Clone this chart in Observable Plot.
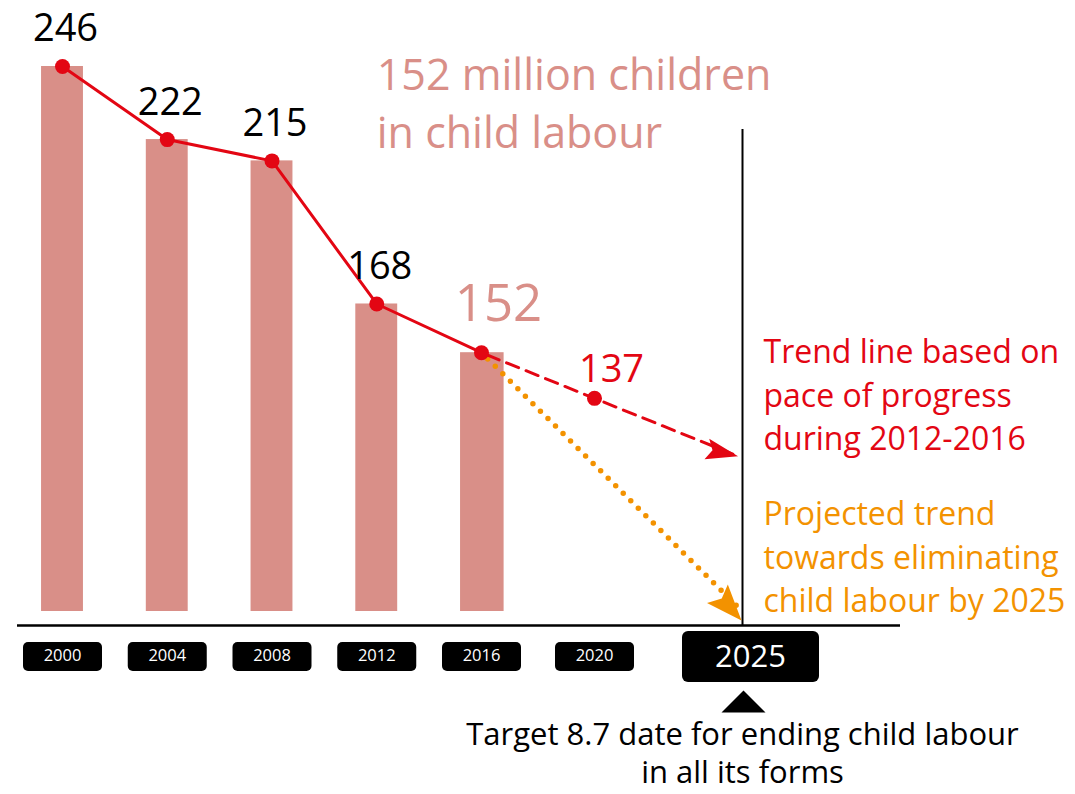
<!DOCTYPE html>
<html><head><meta charset="utf-8">
<script src="https://cdn.jsdelivr.net/npm/d3@7"></script>
<script src="https://cdn.jsdelivr.net/npm/@observablehq/plot@0.6"></script>
<style>
body{margin:0;background:#fff;}
#chart svg{display:block;}
</style></head><body><div id="chart"></div>
<script>
// ---- data ----
const years = [2000, 2004, 2008, 2012, 2016];
const children = [246, 222, 215, 168, 152];
const trendYears = [2016, 2020, 2024.85];
const trendValues = [152, 137, 118];
const targetYears = [2016, 2025];
const targetValues = [152, 0];
const tickYears = [2000, 2004, 2008, 2012, 2016, 2020];
const targetYear = 2025;
const titleText = "152 million children\nin child labour";
const trendNote = "Trend line based on\npace of progress\nduring 2012-2016";
const targetNote = "Projected trend\ntowards eliminating\nchild labour by 2025";
const footNote = "Target 8.7 date for ending child labour\nin all its forms";

// ---- tables ----
const obs = years.map((year, i) => ({year, value: children[i]}));
const trend = trendYears.map((year, i) => ({year, value: trendValues[i]}));
const target = targetYears.map((year, i) => ({year, value: targetValues[i]}));

const RED = "#e30613", ORANGE = "#f39200", SALMON = "#d98f88";
const FONT = "Open Sans, Noto Sans, sans-serif";

// custom symbols
function roundRect(w, h, r) {
  return {draw(ctx) {
    const x0 = -w / 2, y0 = -h / 2, x1 = w / 2, y1 = h / 2;
    ctx.moveTo(x0 + r, y0);
    ctx.lineTo(x1 - r, y0); ctx.arcTo(x1, y0, x1, y0 + r, r);
    ctx.lineTo(x1, y1 - r); ctx.arcTo(x1, y1, x1 - r, y1, r);
    ctx.lineTo(x0 + r, y1); ctx.arcTo(x0, y1, x0, y1 - r, r);
    ctx.lineTo(x0, y0 + r); ctx.arcTo(x0, y0, x0 + r, y0, r);
    ctx.closePath();
  }};
}
function arrowHead(angleDeg, L, W) {
  const a = angleDeg * Math.PI / 180, c = Math.cos(a), s = Math.sin(a);
  const p = (x, y) => [x * c - y * s, x * s + y * c];
  return {draw(ctx) {
    const pts = [p(0, 0), p(-L, -W / 2), p(-L * 0.82, 0), p(-L, W / 2)];
    ctx.moveTo(...pts[0]);
    for (const q of pts.slice(1)) ctx.lineTo(...q);
    ctx.closePath();
  }};
}
const upTriangle = {draw(ctx) {
  ctx.moveTo(0, -11); ctx.lineTo(22, 11); ctx.lineTo(-22, 11); ctx.closePath();
}};

const chart = Plot.plot({
  width: 1075,
  height: 794,
  marginTop: 129,
  marginBottom: 169,
  marginLeft: 17,
  marginRight: 175,
  style: {fontFamily: FONT, background: "#fff"},
  x: {type: "linear", domain: [2000, 2016, 2020, 2025], range: [62, 481, 594, 742], axis: null},
  y: {type: "linear", domain: [67, 246], range: [611, 66], clamp: true, axis: null},
  marks: [
    // bars
    Plot.rectY(obs, {x1: d => d.year - 0.8, x2: d => d.year + 0.8, y1: 0, y2: "value", fill: SALMON}),
    // axis line
    Plot.ruleY([0], {dy: 14, stroke: "#000", strokeWidth: 2.5}),
    // 2025 vertical line
    Plot.ruleX([targetYear], {stroke: "#000", strokeWidth: 2}),
    // projected trend toward elimination (orange dotted)
    Plot.line(target, {x: "year", y: "value", stroke: ORANGE, strokeWidth: 5.5,
      strokeDasharray: "0 10.6", strokeLinecap: "round", strokeDashoffset: -30}),
    Plot.dot([target[1]], {x: "year", y: "value", symbol: arrowHead(48, 36, 28), fill: ORANGE, stroke: null, r: 10, dx: -1, dy: 9}),
    // trend line (red dashed)
    Plot.line(trend, {x: "year", y: "value", curve: "monotone-x", stroke: RED, strokeWidth: 3,
      strokeDasharray: "13 8", strokeDashoffset: -6}),
    Plot.dot([trend[2]], {x: "year", y: "value", symbol: arrowHead(13, 32, 21), fill: RED, stroke: null, r: 10}),
    // observed line
    Plot.line(obs, {x: "year", y: "value", stroke: RED, strokeWidth: 3}),
    Plot.dot(obs, {x: "year", y: "value", r: 7.5, fill: RED, stroke: null}),
    Plot.dot([trend[1]], {x: "year", y: "value", r: 7.5, fill: RED, stroke: null}),
    // value labels
    Plot.text(obs.slice(0, 4), {x: "year", y: "value", text: d => String(d.value), lineAnchor: "top",
      dy: -52, dx: 3, fontSize: 38, fill: "#000"}),
    Plot.text([obs[4]], {x: "year", y: "value", text: d => String(d.value), lineAnchor: "top",
      dy: -68, dx: 17, fontSize: 51, fill: SALMON}),
    Plot.text([trend[1]], {x: "year", y: "value", text: d => String(d.value), lineAnchor: "top",
      dy: -43, dx: 17, fontSize: 38, fill: RED}),
    // tick boxes
    Plot.dot(tickYears, {x: d => d, frameAnchor: "bottom", dy: 31, symbol: roundRect(79, 29, 5), fill: "#000", stroke: null}),
    Plot.text(tickYears, {x: d => d, frameAnchor: "bottom", dy: 35, text: d => String(d), fill: "#fff", fontSize: 16.5}),
    Plot.dot([targetYear], {x: d => d, frameAnchor: "bottom", dy: 31, dx: 8, symbol: roundRect(137, 51, 6), fill: "#000", stroke: null}),
    Plot.text([targetYear], {x: d => d, frameAnchor: "bottom", dy: 41, dx: 8, text: d => String(d), fill: "#fff", fontSize: 31}),
    Plot.dot([targetYear], {x: d => d, frameAnchor: "bottom", dy: 76, dx: 1, symbol: upTriangle, fill: "#000", stroke: null}),
    // annotations
    Plot.text([titleText], {x: 2012, frameAnchor: "top", dy: -81, dx: 0, text: d => d, textAnchor: "start",
      lineAnchor: "top", fontSize: 43, lineHeight: 1.35, fill: SALMON}),
    Plot.text([trendNote], {x: targetYear, frameAnchor: "top", dy: 203, dx: 21, text: d => d, textAnchor: "start",
      lineAnchor: "top", fontSize: 32, lineHeight: 1.36, fill: RED}),
    Plot.text([targetNote], {x: targetYear, frameAnchor: "top", dy: 365, dx: 21, text: d => d, textAnchor: "start",
      lineAnchor: "top", fontSize: 32, lineHeight: 1.36, fill: ORANGE}),
    Plot.text([footNote], {x: targetYear, frameAnchor: "bottom", dy: 92, text: d => d, textAnchor: "middle",
      lineAnchor: "top", fontSize: 31, lineHeight: 1.23, fill: "#000"})
  ]
});
document.getElementById("chart").appendChild(chart);
</script>
</body></html>
